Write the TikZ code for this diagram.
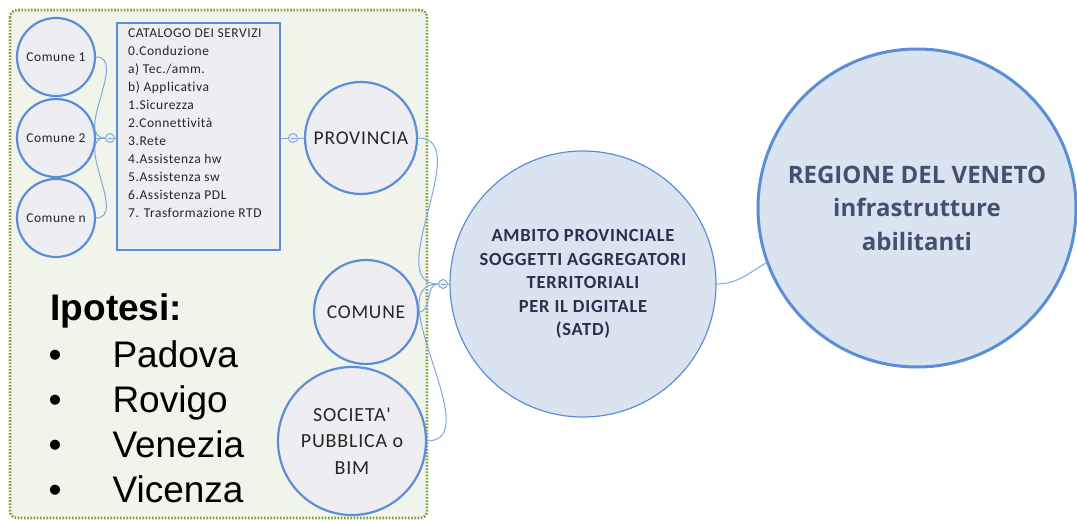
\documentclass[tikz,border=0pt]{standalone}
\usepackage{fontspec}
\setmainfont{Carlito}
\newfontfamily\arialf{Liberation Sans}
\newfontfamily\spaced[LetterSpace=4,Ligatures=NoCommon]{Carlito}
\newfontfamily\spacedb[LetterSpace=4,Ligatures=NoCommon]{Carlito}
\newfontfamily\regf{Open Sans}
\definecolor{cblue}{HTML}{5B8ED6}
\definecolor{lblue}{HTML}{7FA7DE}
\definecolor{cgray}{HTML}{EEEEF2}
\definecolor{framefill}{HTML}{F1F4EA}
\definecolor{fgreen}{HTML}{7E9E40}
\definecolor{ambfill}{HTML}{DAE3F0}
\definecolor{dtext}{HTML}{28324C}
\definecolor{rtext}{HTML}{42526E}
\definecolor{stext}{HTML}{262626}
\begin{document}
\begin{tikzpicture}[x=1pt,y=-1pt,
  smallc/.style={circle,draw=cblue,line width=2.2pt,fill=cgray,inner sep=0pt,minimum size=78pt,text=stext,font=\spaced\fontsize{13.5}{15}\selectfont},
  bigc/.style={circle,draw=cblue,line width=2.2pt,fill=cgray,inner sep=0pt,text=stext,align=center,font=\spaced\fontsize{19.5}{26.5}\selectfont},
  knob/.style={circle,draw=lblue,line width=0.9pt,fill=cgray,inner sep=0pt,minimum size=9pt,
    path picture={\draw[lblue,line width=0.8pt] ([xshift=2pt]path picture bounding box.west) -- ([xshift=-2pt]path picture bounding box.east);}},
  conn/.style={draw=lblue,line width=1pt},
  catbox/.style={rectangle,draw=cblue,line width=2.2pt,fill=cgray,inner sep=0pt,minimum width=163pt,minimum height=227pt},
  bul/.style={anchor=base,font=\arialf\fontsize{37}{40}\selectfont},
  item/.style={anchor=base west,font=\arialf\fontsize{37}{40}\selectfont}
]
\useasboundingbox (0,0) rectangle (1077,522);
\path[fill=framefill,draw=fgreen,line width=2.6pt,dash pattern=on 1.6pt off 1.6pt,rounded corners=7pt] (10,10) rectangle (427,518);

\node[smallc] (c1) at (56,57) {Comune 1};
\node[smallc] (c2) at (56,138) {Comune 2};
\node[smallc] (cn) at (56,218) {Comune n};
\node[knob] (k1) at (110,138) {};
\node[catbox] (cat) at (198.5,136.5) {};
\node[anchor=north west,align=left,inner sep=0pt,text=stext,font=\spaced\fontsize{13.5}{18}\selectfont] (catlist) at (128,29) {CATALOGO DEI SERVIZI\\0.Conduzione\\a) Tec./amm.\\b) Applicativa\\1.Sicurezza\\2.Connettività\\3.Rete\\4.Assistenza hw\\5.Assistenza sw\\6.Assistenza PDL\\7. Trasformazione RTD};
\node[knob] (k2) at (293,138) {};
\node[bigc,minimum size=112pt] (prov) at (361,138) {PROVINCIA};
\node[bigc,minimum size=104pt] (com) at (366,312) {COMUNE};
\node[bigc,minimum size=148pt,font=\spaced\fontsize{20}{26.5}\selectfont] (soc) at (352,441) {SOCIETA'\\PUBBLICA o\\BIM};
\node[knob] (k3) at (443,284) {};
\node[circle,draw=cblue,line width=1.2pt,fill=ambfill,inner sep=0pt,minimum size=266pt,align=center,text=dtext,font=\spacedb\bfseries\fontsize{18.5}{23.4}\selectfont] (amb) at (583,284) {AMBITO PROVINCIALE\\SOGGETTI AGGREGATORI\\TERRITORIALI\\PER IL DIGITALE\\(SATD)};
\node[circle,draw=cblue,line width=3pt,fill=ambfill,inner sep=0pt,minimum size=318pt,align=center,text=rtext,font=\regf\bfseries\fontsize{24}{33.5}\selectfont] (reg) at (917,208) {REGIONE DEL VENETO\\infrastrutture\\abilitanti};

\draw[conn] (c1.east) to[out=0,in=180] (k1.west);
\draw[conn] (c2.east) -- (k1.west);
\draw[conn] (cn.east) to[out=0,in=180] (k1.west);
\draw[conn] (k1.east) -- (k1.east -| cat.west);
\draw[conn] (k2.west -| cat.east) -- (k2.west);
\draw[conn] (k2.east) -- (prov.west);
\draw[conn] (prov.east) to[out=0,in=180] (k3.west);
\draw[conn] (com.east) to[out=0,in=180] (k3.west);
\draw[conn] (soc.east) to[out=0,in=180] (k3.west);
\draw[conn] (k3.east) -- (amb.west);
\draw[conn] (amb.east) to[out=0,in=210] (reg.200);

\node[anchor=base west,font=\arialf\bfseries\fontsize{37}{40}\selectfont] (ipo) at (47,320) {Ipotesi:};
\node[bul] (b1) at (55,367) {•};
\node[item] (t1) at (109,367) {Padova};
\node[bul] (b2) at (55,412) {•};
\node[item] (t2) at (109,412) {Rovigo};
\node[bul] (b3) at (55,457) {•};
\node[item] (t3) at (109,457) {Venezia};
\node[bul] (b4) at (55,502) {•};
\node[item] (t4) at (109,502) {Vicenza};
\end{tikzpicture}
\end{document}
